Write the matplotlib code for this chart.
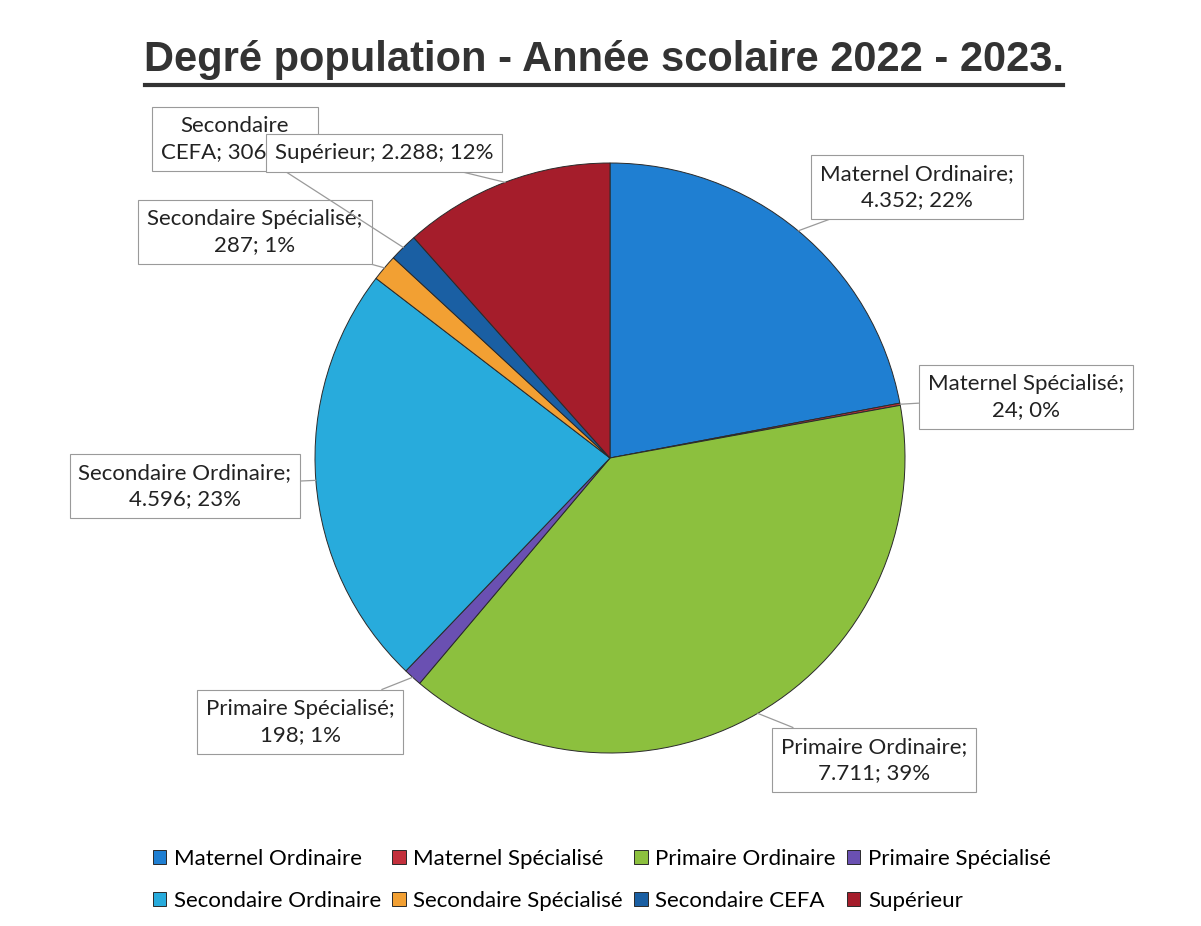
import matplotlib
matplotlib.use("Agg")
import matplotlib.pyplot as plt
from matplotlib.lines import Line2D
import numpy as np

categories = ["Maternel Ordinaire", "Maternel Spécialisé", "Primaire Ordinaire",
              "Primaire Spécialisé", "Secondaire Ordinaire", "Secondaire Spécialisé",
              "Secondaire CEFA", "Supérieur"]
values = [4352, 24, 7711, 198, 4596, 287, 306, 2288]
value_labels = ["4.352", "24", "7.711", "198", "4.596", "287", "306", "2.288"]
colors = ["#1f7fd2", "#c3303c", "#8cc03e", "#6a50b2", "#28abdc", "#f2a033",
          "#1a5fa3", "#a51d2b"]
# label text layout (line breaks as in reference)
label_texts = ["Maternel Ordinaire;\n{v}; {p}", "Maternel Spécialisé;\n{v}; {p}",
               "Primaire Ordinaire;\n{v}; {p}", "Primaire Spécialisé;\n{v}; {p}",
               "Secondaire Ordinaire;\n{v}; {p}", "Secondaire Spécialisé;\n{v}; {p}",
               "Secondaire\nCEFA; {v}; {p}", "Supérieur; {v}; {p}"]
# label centres in pixels (x, y from top)
label_pos = [(917, 187), (1026, 397), (874, 760), (300, 722), (185, 486),
             (255, 232), (235, 139), (384, 153)]

W, H = 1201, 926
fig = plt.figure(figsize=(W / 100, H / 100), dpi=100)
fig.patch.set_facecolor("white")

FONT = ["Lato", "DejaVu Sans"]

# pie axes: centre (610, 458), radius 295 px
cx, cy, r = 610, 458, 295
ax = fig.add_axes([(cx - r) / W, 1 - (cy + r) / H, 2 * r / W, 2 * r / H])
wedges, _ = ax.pie(values, colors=colors, startangle=90, counterclock=False,
                   radius=1.0,
                   wedgeprops=dict(edgecolor="#2a2a2a", linewidth=0.7))
ax.set_xlim(-1, 1)
ax.set_ylim(-1, 1)
ax.set_aspect("equal")
ax.axis("off")

total = sum(values)
for i, (w, txt) in enumerate(zip(wedges, label_texts)):
    pct = f"{round(values[i] / total * 100):d}%"
    s = txt.format(v=value_labels[i], p=pct)
    ang = np.deg2rad((w.theta1 + w.theta2) / 2)
    xy = (np.cos(ang), np.sin(ang))
    px, py = label_pos[i]
    ax.annotate(s, xy=xy, xycoords="data",
                xytext=(px / W, 1 - py / H), textcoords="figure fraction",
                ha="center", va="center", multialignment="center",
                fontsize=16, family=FONT, color="#222222", linespacing=1.4,
                bbox=dict(boxstyle="square,pad=0.4", fc="white", ec="#9a9a9a",
                          lw=0.8),
                arrowprops=dict(arrowstyle="-", color="#9a9a9a", lw=0.9,
                                shrinkA=0, shrinkB=0),
                zorder=5 + i, annotation_clip=False)

# title with underline
fig.text(604 / W, 1 - 60 / H, "Degré population - Année scolaire 2022 - 2023.",
         ha="center", va="center", fontsize=30, fontweight="bold",
         family=["Liberation Sans", "DejaVu Sans"], color="#333333")
fig.add_artist(Line2D([145 / W, 1063 / W], [1 - 85 / H, 1 - 85 / H],
                      transform=fig.transFigure, color="#333333", lw=3))

# legend, row-major order
order = [0, 4, 1, 5, 2, 6, 3, 7]
leg = fig.legend([wedges[i] for i in order], [categories[i] for i in order],
                 loc="upper left", bbox_to_anchor=(144 / W, 1 - 840 / H),
                 ncol=4, frameon=False, prop=dict(family=FONT, size=16),
                 handlelength=0.6, handleheight=0.6, handletextpad=0.35,
                 columnspacing=0.5, labelspacing=0.98, borderaxespad=0)

fig.savefig("out.png", dpi=100, facecolor="white")
